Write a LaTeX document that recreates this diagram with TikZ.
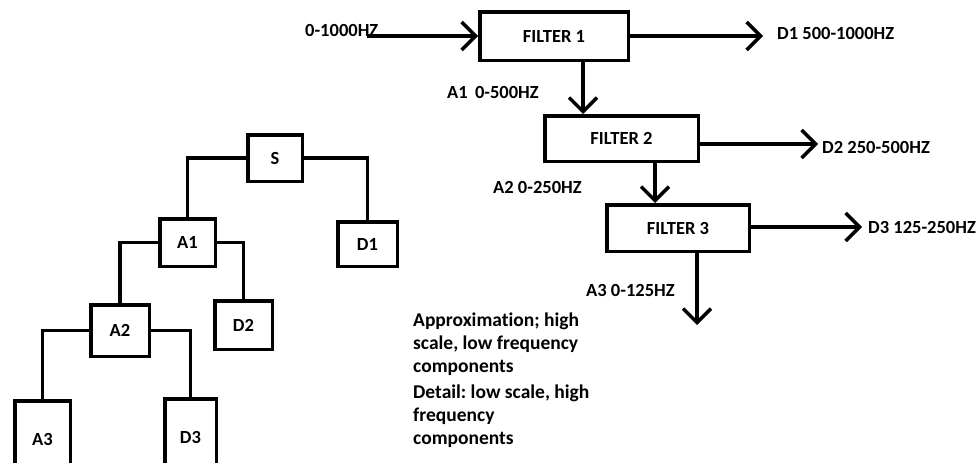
\documentclass[tikz,border=0pt]{standalone}
\usepackage{fontspec}
\setmainfont{Carlito}[Ligatures=NoCommon]
\usetikzlibrary{arrows.meta}
\newcommand{\lblfont}{\bfseries\fontsize{18.5}{22}\selectfont}
\frenchspacing

\begin{document}
\begin{tikzpicture}[x=1pt,y=-1pt,
  box/.style={draw,line width=3.5pt,inner sep=0pt,font=\lblfont},
  lab/.style={font=\lblfont,inner sep=0pt,anchor=west},
  wire/.style={line width=3.5pt},
  arr/.style={line width=3.5pt,-{Straight Barb[length=14pt,width=28pt]}}]
 \useasboundingbox (0,0) rectangle (980,463);
 \clip (0,0) rectangle (980,463);
 \node[box,minimum width=148.5pt,minimum height=48.5pt] (F1) at (554,36) {FILTER 1};
 \node[box,minimum width=153.5pt,minimum height=45.5pt] (F2) at (621.5,138.5) {FILTER 2};
 \node[box,minimum width=142.5pt,minimum height=46.5pt] (F3) at (678,228) {FILTER 3};
 \coordinate (in) at (367,36);
 \coordinate (d1) at (763,36);
 \coordinate (d2) at (818,144);
 \coordinate (d3) at (862,227);
 \coordinate (a1) at (583,0);
 \coordinate (a2) at (655,0);
 \coordinate (a3) at (697,325);
 \node[lab] (lin) at (305,30) {0-1000HZ};
 \node[lab] (la1) at (447,92) {A1\, 0-500HZ};
 \node[lab] (la2) at (493,187) {A2 0-250HZ};
 \node[lab] (la3) at (586,290) {A3 0-125HZ};
 \node[lab] (ld1) at (777,33) {D1 500-1000HZ};
 \node[lab] (ld2) at (822,147) {D2 250-500HZ};
 \node[lab] (ld3) at (868,227) {D3 125-250HZ};
 \begin{scope}[every path/.style={arr}]
 \draw (in) -- (in -| F1.west);
 \draw (F1.east |- d1) -- (d1);
 \draw (a1 |- F1.south) -- (a1 |- F2.north);
 \draw (F2.east |- d2) -- (d2);
 \draw (a2 |- F2.south) -- (a2 |- F3.north);
 \draw (F3.east |- d3) -- (d3);
 \draw (a3 |- F3.south) -- (a3);
 \end{scope}
 \node[box,minimum width=54.5pt,minimum height=46.5pt] (S) at (275,158) {S};
 \node[box,minimum width=55.5pt,minimum height=47.5pt] (A1) at (187.5,242.5) {A1};
 \node[box,minimum width=59.5pt,minimum height=44.5pt] (D1) at (367.5,244) {D1};
 \node[box,minimum width=58.5pt,minimum height=51.5pt] (A2) at (120,330.5) {A2};
 \node[box,minimum width=57.5pt,minimum height=48.5pt] (D2) at (243.5,325) {D2};
 \node[box,minimum width=55.5pt,minimum height=76.5pt] (A3) at (42.5,439) {A3};
 \node[box,minimum width=51.5pt,minimum height=76.5pt] (D3) at (190.5,437) {D3};
 \draw[wire] (S.west) -| (A1.north);
 \draw[wire] (S.east) -| (D1.north);
 \draw[wire] (A1.west) -| (A2.north);
 \draw[wire] (A1.east) -| (D2.north);
 \draw[wire] (A2.west) -| (A3.north);
 \draw[wire] (A2.east) -| (D3.north);
 \node[font=\bfseries\fontsize{19.5}{23}\selectfont,align=left,anchor=north west,inner sep=0pt] (note) at (413,313) {Approximation; high\\scale, low frequency\\components\\[3pt]Detail: low scale, high\\frequency\\components};
\end{tikzpicture}
\end{document}
